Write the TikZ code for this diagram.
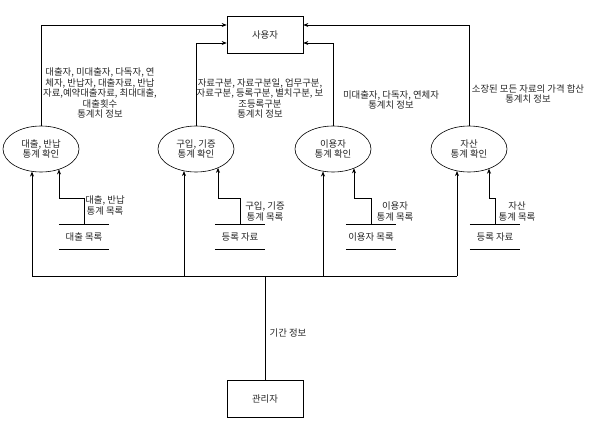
\documentclass[tikz,border=0pt]{standalone}
\usepackage{fontspec}
\setmainfont{Noto Sans CJK KR}
\usetikzlibrary{arrows.meta,shapes.geometric}
\begin{document}
\begin{tikzpicture}[x=1pt,y=-1pt,
  every node/.style={font=\fontsize{9.4}{10.5}\selectfont, text=black!85},
  ent/.style={draw, rectangle, line width=0.6pt, minimum width=76pt, minimum height=37pt, inner sep=0pt},
  proc/.style={draw, ellipse, line width=0.6pt, minimum width=76pt, minimum height=46pt, inner sep=0pt, align=center},
  store/.style={minimum width=50pt, minimum height=25pt, inner sep=0pt},
  lbl/.style={align=center, inner sep=0pt},
  flow/.style={line width=0.6pt},
  arr/.style={flow, -{Stealth[length=5pt,width=4pt]}}]
\useasboundingbox (0,0) rectangle (591,423);

% entities
\node[ent] (user) at (265,34.5) {사용자};
\node[ent] (admin) at (265,398.5) {관리자};

% processes
\node[proc] (e1) at (41,149) {대출, 반납\\통계 확인};
\node[proc] (e2) at (196,149) {구입, 기증\\통계 확인};
\node[proc] (e3) at (333,149) {이용자\\통계 확인};
\node[proc] (e4) at (469,149) {자산\\통계 확인};

% data stores
\node[store] (d1) at (84,236.5) {대출 목록};
\node[store] (d2) at (240,236.5) {등록 자료};
\node[store] (d3) at (371,236.5) {이용자 목록};
\node[store] (d4) at (495,236.5) {등록 자료};
\foreach \d in {d1,d2,d3,d4}{
  \draw[flow] (\d.north west) -- (\d.north east) (\d.south west) -- (\d.south east);
}

% flows to user
\draw[arr] (e1.north) |- ([yshift=9.5pt]user.west);
\draw[arr] (e2.north) |- ([yshift=-8.5pt]user.west);
\draw[arr] (e3.north) |- ([yshift=-8.5pt]user.east);
\draw[arr] (e4.north) |- ([yshift=9.5pt]user.east);

\node[lbl] (t1) at (100,93) {대출자, 미대출자, 다독자, 연\\체자, 반납자, 대출자료, 반납\\자료,예약대출자료, 최대대출,\\대출횟수\\통계치 정보};
\node[lbl] (t2) at (260,98.5) {자료구분, 자료구분일, 업무구분,\\자료구분, 등록구분, 별치구분, 보\\조등록구분\\통계치 정보};
\node[lbl] (t3) at (391,100) {미대출자, 다독자, 연체자\\통계치 정보};
\node[lbl] (t4) at (528,94) {소장된 모든 자료의 가격 합산\\통계치 정보};

% data store flows
\coordinate (k1) at (59,198);
\coordinate (k2) at (218,198);
\coordinate (k3) at (354,198);
\coordinate (k4) at (489,198);
\draw[arr] (d1.north) |- (k1) -- (k1 |- e1.312);
\draw[arr] (d2.north) |- (k2) -- (k2 |- e2.320);
\draw[arr] (d3.north) |- (k3) -- (k3 |- e3.318);
\draw[arr] (d4.north) |- (k4) -- (k4 |- e4.316);

\node[lbl] (s1) at (105,205.5) {대출, 반납\\통계 목록};
\node[lbl] (s2) at (265,211.5) {구입, 기증\\통계 목록};
\node[lbl] (s3) at (395,211.5) {이용자\\통계 목록};
\node[lbl] (s4) at (517,211.5) {자산\\통계 목록};

% admin bus
\coordinate (b1) at (32,276);
\coordinate (b2) at (184,276);
\coordinate (b3) at (323,276);
\coordinate (b4) at (457,276);
\draw[flow] (admin.north) -- (admin.north |- b1);
\draw[flow] (b1) -- (b4);
\draw[arr] (b1) -- (b1 |- e1.248);
\draw[arr] (b2) -- (b2 |- e2.241);
\draw[arr] (b3) -- (b3 |- e3.246);
\draw[arr] (b4) -- (b4 |- e4.241);

\node[lbl] (t5) at (288,333) {기간 정보};
\end{tikzpicture}
\end{document}
